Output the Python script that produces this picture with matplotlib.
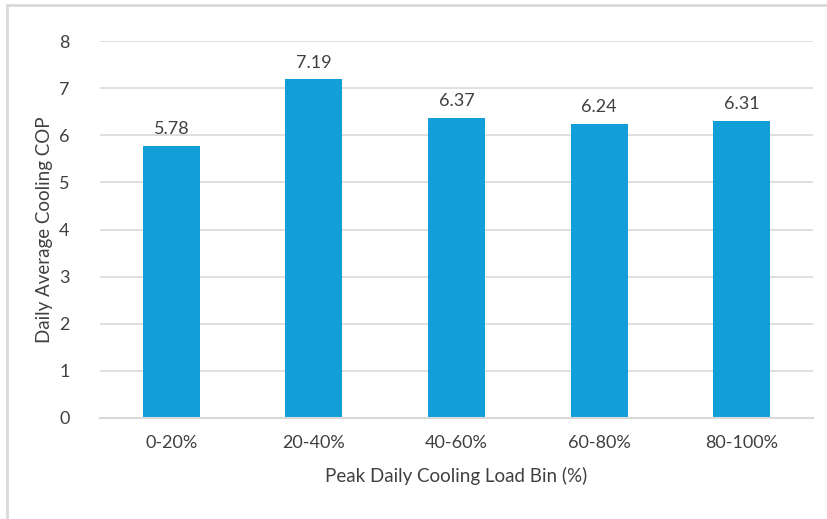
import matplotlib.pyplot as plt
from matplotlib.patches import Rectangle

categories = ["0-20%", "20-40%", "40-60%", "60-80%", "80-100%"]
cop_values = [5.78, 7.19, 6.37, 6.24, 6.31]
y_ticks = [0, 1, 2, 3, 4, 5, 6, 7, 8]

W, H = 827, 519
BAR_COLOR = "#129FD7"
GRID_COLOR = "#D9D9D9"
TEXT_COLOR = "#404040"
FS = 13

plt.rcParams["font.family"] = ["Lato", "DejaVu Sans"]

fig = plt.figure(figsize=(W / 100, H / 100), dpi=100)
left, right, bottom, top = 100, 813, 418, 41
ax = fig.add_axes([left / W, 1 - bottom / H, (right - left) / W, (bottom - top) / H])

x = range(len(categories))
ax.bar(x, cop_values, width=0.4, color=BAR_COLOR, zorder=3)
for xi, v in zip(x, cop_values):
    ax.text(xi, v + 0.18, f"{v:.2f}", ha="center", va="bottom", fontsize=FS, color=TEXT_COLOR)

ax.set_xlim(-0.5, len(categories) - 0.5)
ax.set_ylim(0, 8)
ax.set_yticks(y_ticks)
ax.set_xticks(list(x))
ax.set_xticklabels(categories)
ax.grid(axis="y", color=GRID_COLOR, linewidth=1.2, zorder=0)
for side in ["top", "right", "left"]:
    ax.spines[side].set_visible(False)
ax.spines["bottom"].set_color(GRID_COLOR)
ax.spines["bottom"].set_linewidth(1.5)
ax.spines["bottom"].set_zorder(4)
ax.tick_params(axis="both", length=0, labelsize=FS, colors=TEXT_COLOR)
ax.tick_params(axis="x", pad=12)
ax.tick_params(axis="y", pad=22)

ax.set_xlabel("Peak Daily Cooling Load Bin (%)", fontsize=FS + 0.5, color=TEXT_COLOR, labelpad=12)
ax.set_ylabel("Daily Average Cooling COP", fontsize=FS + 0.5, color=TEXT_COLOR, labelpad=4)

fig.patches.append(Rectangle((7 / W, -0.1), 1.2, 1 - 5 / H + 0.1, transform=fig.transFigure,
                             fill=False, edgecolor=GRID_COLOR, linewidth=2))

fig.savefig("out.png", dpi=100)
